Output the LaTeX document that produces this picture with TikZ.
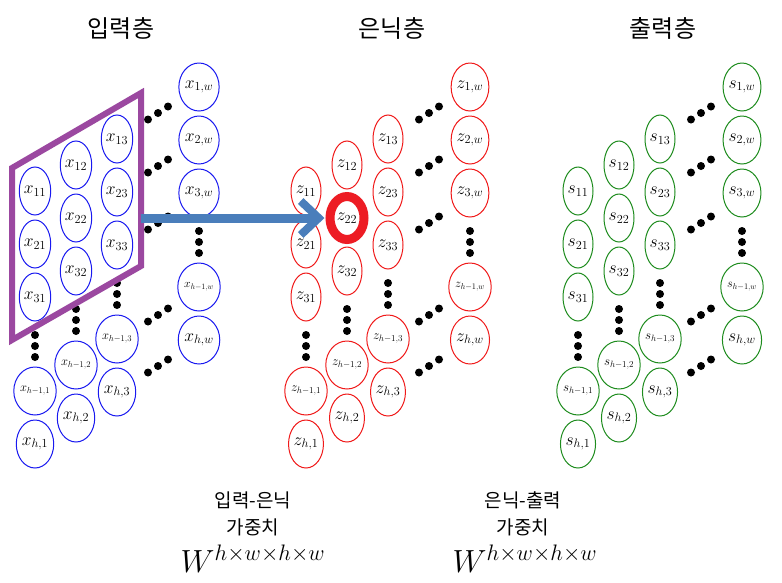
\RequirePackage{fix-cm}
\documentclass[tikz,border=0pt]{standalone}
\usepackage{graphicx}
\usepackage{fontspec}
\newfontfamily\kr{Noto Sans CJK KR}
\usetikzlibrary{shapes.geometric,arrows.meta}
\definecolor{cblue}{RGB}{25,25,240}
\definecolor{cred}{RGB}{240,25,25}
\definecolor{cgreen}{RGB}{30,140,30}
\definecolor{cpurple}{RGB}{155,72,160}
\definecolor{carrow}{RGB}{74,126,187}
\definecolor{chl}{RGB}{237,28,36}
\tikzset{
  cell/.style={ellipse, draw, minimum width=30pt, minimum height=48pt, inner sep=0pt, line width=1pt,
    font=\fontsize{17.5}{19}\selectfont},
  ttl/.style={font=\kr\fontsize{24}{28}\selectfont, inner sep=0pt},
  wlab/.style={font=\kr\fontsize{19}{22}\selectfont, inner sep=0pt},
  wmath/.style={font=\fontsize{32}{36}\selectfont, inner sep=0pt},
}
\begin{document}
\begin{tikzpicture}[x=1pt,y=-1pt]
\fill[white] (0,0) rectangle (782,582);
\useasboundingbox (0,0) rectangle (782,582);
% titles
\node[ttl] (t1) at (121,28) {입력층};
\node[ttl] (t2) at (392,28) {은닉층};
\node[ttl] (t3) at (663,28) {출력층};
% three layers
\foreach \gx/\col/\lab in {0/cblue/x, 271/cred/z, 543/cgreen/s}{
  \foreach \cn/\cx/\cy in {1/35/191, 2/76/165, 3/117/139}{
    \foreach \row/\dy in {1/0, 2/53, 3/106}{
      \node[cell, draw=\col] (\lab\row\cn) at (\gx+\cx, \cy+\dy) {$\lab_{\row\cn}$};
    }
    \node[cell, draw=\col] (\lab m\cn) at (\gx+\cx, \cy+200) {\resizebox{30pt}{!}{$\lab_{h-1,\cn}$}};
    \node[cell, draw=\col] (\lab h\cn) at (\gx+\cx, \cy+253) {$\lab_{h,\cn}$};
    \foreach \dy in {144,155,166} \fill (\gx+\cx, \cy+\dy) circle (4pt);
  }
  \foreach \row/\dy in {1/0, 2/53, 3/106}{
    \node[cell, draw=\col] (\lab\row w) at (\gx+199, 87+\dy) {$\lab_{\row,w}$};
  }
  \node[cell, draw=\col] (\lab mw) at (\gx+199, 287) {\resizebox{30pt}{!}{$\lab_{h-1,w}$}};
  \node[cell, draw=\col] (\lab hw) at (\gx+199, 340) {$\lab_{h,w}$};
  \foreach \dy in {231,242,253} \fill (\gx+199, \dy) circle (4pt);
  \foreach \my in {113,166,223,315,366}{
    \fill (\gx+148, \my+6.5) circle (4pt);
    \fill (\gx+158, \my) circle (4pt);
    \fill (\gx+168, \my-6.5) circle (4pt);
  }
}
% purple window
\draw[cpurple, line width=6pt, line join=miter] (12,168) -- (141,93) -- (141,266) -- (12,340) -- cycle;
\coordinate (ps) at (141,218);
% highlight
\node[ellipse, draw=chl, line width=9pt, minimum width=34pt, minimum height=43pt, inner sep=0pt] (hl) at (z22) {};
\draw[carrow, line width=9pt, shorten >=1pt, -{Straight Barb[length=18pt,width=34pt,line width=8pt]}] (ps) -- (hl.west);
% weights
\node[wlab] (a1) at (253,500) {입력-은닉};
\node[wlab] (a2) at (253,527) {가중치};
\node[wmath] (a3) at (253,559) {$W^{h\times w\times h\times w}$};
\node[wlab] (b1) at (523,500) {은닉-출력};
\node[wlab] (b2) at (523,527) {가중치};
\node[wmath] (b3) at (525,559) {$W^{h\times w\times h\times w}$};
\end{tikzpicture}
\end{document}
